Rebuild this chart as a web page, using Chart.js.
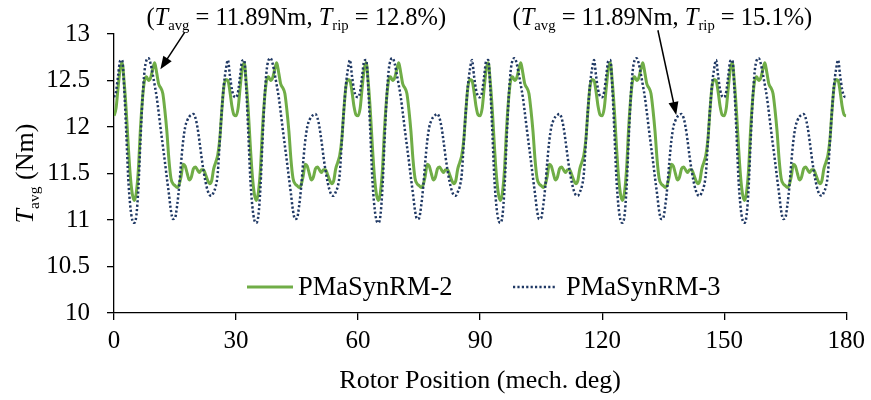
<!DOCTYPE html>
<html>
<head>
<meta charset="utf-8">
<title>Torque ripple</title>
<script src="https://cdn.jsdelivr.net/npm/chart.js@4.4.1/dist/chart.umd.min.js"></script>
<style>
  html, body { margin: 0; padding: 0; background: #fff; }
  #wrap { width: 871px; height: 400px; }
</style>
</head>
<body>
<div id="wrap"><canvas id="torqueChart" width="871" height="400"></canvas></div>
<script>
// Torque vs rotor position, sampled every 0.5 mech. deg (0 .. 180)
const STEP_DEG = 0.5;

const X_TICKS = [0, 30, 60, 90, 120, 150, 180];
const Y_MIN = 10, Y_MAX = 13, Y_STEP = 0.5;

const seriesNames = ['PMaSynRM-2', 'PMaSynRM-3'];

// PMaSynRM-2 (one line per 30 deg)
const pmasynrm2 = [
  12.12, 12.20, 12.42, 12.62, 12.69, 12.48, 12.18, 11.80, 11.48, 11.28, 11.21, 11.30, 11.55, 11.98, 12.30, 12.50, 12.54, 12.50, 12.53, 12.62, 12.69, 12.58, 12.46, 12.42, 12.36, 12.18, 11.95, 11.65, 11.45, 11.39, 11.37, 11.35, 11.38, 11.47, 11.60, 11.58, 11.50, 11.43, 11.46, 11.55, 11.57, 11.54, 11.51, 11.54, 11.54, 11.49, 11.43, 11.39, 11.42, 11.55, 11.62, 11.70, 11.87, 12.18, 12.43, 12.51, 12.50, 12.38, 12.22, 12.13,
  12.12, 12.20, 12.42, 12.62, 12.69, 12.48, 12.18, 11.80, 11.48, 11.28, 11.21, 11.30, 11.55, 11.98, 12.30, 12.50, 12.54, 12.50, 12.53, 12.62, 12.69, 12.58, 12.46, 12.42, 12.36, 12.18, 11.95, 11.65, 11.45, 11.39, 11.37, 11.35, 11.38, 11.47, 11.60, 11.58, 11.50, 11.43, 11.46, 11.55, 11.57, 11.54, 11.51, 11.54, 11.54, 11.49, 11.43, 11.39, 11.42, 11.55, 11.62, 11.70, 11.87, 12.18, 12.43, 12.51, 12.50, 12.38, 12.22, 12.13,
  12.12, 12.20, 12.42, 12.62, 12.69, 12.48, 12.18, 11.80, 11.48, 11.28, 11.21, 11.30, 11.55, 11.98, 12.30, 12.50, 12.54, 12.50, 12.53, 12.62, 12.69, 12.58, 12.46, 12.42, 12.36, 12.18, 11.95, 11.65, 11.45, 11.39, 11.37, 11.35, 11.38, 11.47, 11.60, 11.58, 11.50, 11.43, 11.46, 11.55, 11.57, 11.54, 11.51, 11.54, 11.54, 11.49, 11.43, 11.39, 11.42, 11.55, 11.62, 11.70, 11.87, 12.18, 12.43, 12.51, 12.50, 12.38, 12.22, 12.13,
  12.12, 12.20, 12.42, 12.62, 12.69, 12.48, 12.18, 11.80, 11.48, 11.28, 11.21, 11.30, 11.55, 11.98, 12.30, 12.50, 12.54, 12.50, 12.53, 12.62, 12.69, 12.58, 12.46, 12.42, 12.36, 12.18, 11.95, 11.65, 11.45, 11.39, 11.37, 11.35, 11.38, 11.47, 11.60, 11.58, 11.50, 11.43, 11.46, 11.55, 11.57, 11.54, 11.51, 11.54, 11.54, 11.49, 11.43, 11.39, 11.42, 11.55, 11.62, 11.70, 11.87, 12.18, 12.43, 12.51, 12.50, 12.38, 12.22, 12.13,
  12.12, 12.20, 12.42, 12.62, 12.69, 12.48, 12.18, 11.80, 11.48, 11.28, 11.21, 11.30, 11.55, 11.98, 12.30, 12.50, 12.54, 12.50, 12.53, 12.62, 12.69, 12.58, 12.46, 12.42, 12.36, 12.18, 11.95, 11.65, 11.45, 11.39, 11.37, 11.35, 11.38, 11.47, 11.60, 11.58, 11.50, 11.43, 11.46, 11.55, 11.57, 11.54, 11.51, 11.54, 11.54, 11.49, 11.43, 11.39, 11.42, 11.55, 11.62, 11.70, 11.87, 12.18, 12.43, 12.51, 12.50, 12.38, 12.22, 12.13,
  12.12, 12.20, 12.42, 12.62, 12.69, 12.48, 12.18, 11.80, 11.48, 11.28, 11.21, 11.30, 11.55, 11.98, 12.30, 12.50, 12.54, 12.50, 12.53, 12.62, 12.69, 12.58, 12.46, 12.42, 12.36, 12.18, 11.95, 11.65, 11.45, 11.39, 11.37, 11.35, 11.38, 11.47, 11.60, 11.58, 11.50, 11.43, 11.46, 11.55, 11.57, 11.54, 11.51, 11.54, 11.54, 11.49, 11.43, 11.39, 11.42, 11.55, 11.62, 11.70, 11.87, 12.18, 12.43, 12.51, 12.50, 12.38, 12.22, 12.13,
  12.12
];

// PMaSynRM-3
const pmasynrm3 = [
  12.32, 12.38, 12.55, 12.71, 12.72, 12.42, 11.95, 11.45, 11.15, 11.00, 10.97, 11.05, 11.35, 11.85, 12.30, 12.60, 12.72, 12.74, 12.68, 12.57, 12.45, 12.32, 12.15, 11.97, 11.80, 11.63, 11.45, 11.28, 11.10, 11.01, 11.02, 11.15, 11.35, 11.62, 11.85, 12.00, 12.07, 12.11, 12.13, 12.14, 12.10, 12.00, 11.85, 11.68, 11.53, 11.41, 11.32, 11.27, 11.26, 11.30, 11.36, 11.50, 11.85, 12.18, 12.45, 12.62, 12.72, 12.55, 12.40, 12.33,
  12.32, 12.38, 12.55, 12.71, 12.72, 12.42, 11.95, 11.45, 11.15, 11.00, 10.97, 11.05, 11.35, 11.85, 12.30, 12.60, 12.72, 12.74, 12.68, 12.57, 12.45, 12.32, 12.15, 11.97, 11.80, 11.63, 11.45, 11.28, 11.10, 11.01, 11.02, 11.15, 11.35, 11.62, 11.85, 12.00, 12.07, 12.11, 12.13, 12.14, 12.10, 12.00, 11.85, 11.68, 11.53, 11.41, 11.32, 11.27, 11.26, 11.30, 11.36, 11.50, 11.85, 12.18, 12.45, 12.62, 12.72, 12.55, 12.40, 12.33,
  12.32, 12.38, 12.55, 12.71, 12.72, 12.42, 11.95, 11.45, 11.15, 11.00, 10.97, 11.05, 11.35, 11.85, 12.30, 12.60, 12.72, 12.74, 12.68, 12.57, 12.45, 12.32, 12.15, 11.97, 11.80, 11.63, 11.45, 11.28, 11.10, 11.01, 11.02, 11.15, 11.35, 11.62, 11.85, 12.00, 12.07, 12.11, 12.13, 12.14, 12.10, 12.00, 11.85, 11.68, 11.53, 11.41, 11.32, 11.27, 11.26, 11.30, 11.36, 11.50, 11.85, 12.18, 12.45, 12.62, 12.72, 12.55, 12.40, 12.33,
  12.32, 12.38, 12.55, 12.71, 12.72, 12.42, 11.95, 11.45, 11.15, 11.00, 10.97, 11.05, 11.35, 11.85, 12.30, 12.60, 12.72, 12.74, 12.68, 12.57, 12.45, 12.32, 12.15, 11.97, 11.80, 11.63, 11.45, 11.28, 11.10, 11.01, 11.02, 11.15, 11.35, 11.62, 11.85, 12.00, 12.07, 12.11, 12.13, 12.14, 12.10, 12.00, 11.85, 11.68, 11.53, 11.41, 11.32, 11.27, 11.26, 11.30, 11.36, 11.50, 11.85, 12.18, 12.45, 12.62, 12.72, 12.55, 12.40, 12.33,
  12.32, 12.38, 12.55, 12.71, 12.72, 12.42, 11.95, 11.45, 11.15, 11.00, 10.97, 11.05, 11.35, 11.85, 12.30, 12.60, 12.72, 12.74, 12.68, 12.57, 12.45, 12.32, 12.15, 11.97, 11.80, 11.63, 11.45, 11.28, 11.10, 11.01, 11.02, 11.15, 11.35, 11.62, 11.85, 12.00, 12.07, 12.11, 12.13, 12.14, 12.10, 12.00, 11.85, 11.68, 11.53, 11.41, 11.32, 11.27, 11.26, 11.30, 11.36, 11.50, 11.85, 12.18, 12.45, 12.62, 12.72, 12.55, 12.40, 12.33,
  12.32, 12.38, 12.55, 12.71, 12.72, 12.42, 11.95, 11.45, 11.15, 11.00, 10.97, 11.05, 11.35, 11.85, 12.30, 12.60, 12.72, 12.74, 12.68, 12.57, 12.45, 12.32, 12.15, 11.97, 11.80, 11.63, 11.45, 11.28, 11.10, 11.01, 11.02, 11.15, 11.35, 11.62, 11.85, 12.00, 12.07, 12.11, 12.13, 12.14, 12.10, 12.00, 11.85, 11.68, 11.53, 11.41, 11.32, 11.27, 11.26, 11.30, 11.36, 11.50, 11.85, 12.18, 12.45, 12.62, 12.72, 12.55, 12.40, 12.33,
  12.32
];

// Annotation labels: ripple text, text centre (deg), arrow tail / tip (deg, Nm)
const annotRipple = ['12.8%', '15.1%'];
const annotAvg = '11.89Nm';
const annotCenterDeg = [44.8, 134.8];
const arrowTail = [[17.4, 13.02], [133.7, 13.04]];
const arrowTip  = [[11.4, 12.62], [138.2, 12.13]];

const SERIF = "'Liberation Serif', 'Times New Roman', serif";
const GREEN = '#70AD47';
const NAVY  = '#1F3864';
const DOTS  = [2.2, 2.2];

const toPoints = vals => vals.map((v, i) => ({ x: i * STEP_DEG, y: v }));

// rich text (italic T + subscript) drawn left-to-right from x0 / centred
function richText(ctx, parts, size, x0, baseline, align) {
  const fontOf = p => (p.italic ? 'italic ' : '') + (p.sub ? size * 0.6 : size) + 'px ' + SERIF;
  let total = 0;
  parts.forEach(p => { ctx.font = fontOf(p); p.w = ctx.measureText(p.t).width; total += p.w; });
  let x = align === 'center' ? x0 - total / 2 : x0;
  ctx.textAlign = 'left';
  ctx.textBaseline = 'alphabetic';
  parts.forEach(p => {
    ctx.font = fontOf(p);
    ctx.fillText(p.t, x, baseline + (p.sub ? size * 0.22 : 0));
    x += p.w;
  });
}

function arrow(ctx, x1, y1, x2, y2) {
  const ang = Math.atan2(y2 - y1, x2 - x1);
  const len = 13, half = 5;
  ctx.beginPath();
  ctx.moveTo(x1, y1);
  ctx.lineTo(x2 - Math.cos(ang) * len * 0.8, y2 - Math.sin(ang) * len * 0.8);
  ctx.stroke();
  ctx.beginPath();
  ctx.moveTo(x2, y2);
  ctx.lineTo(x2 - Math.cos(ang) * len - Math.sin(ang) * half, y2 - Math.sin(ang) * len + Math.cos(ang) * half);
  ctx.lineTo(x2 - Math.cos(ang) * len + Math.sin(ang) * half, y2 - Math.sin(ang) * len - Math.cos(ang) * half);
  ctx.closePath();
  ctx.fill();
}

const overlay = {
  id: 'overlay',
  afterDraw(chart) {
    const { ctx, chartArea } = chart;
    const xs = chart.scales.x, ys = chart.scales.y;
    ctx.save();
    ctx.fillStyle = '#000';
    ctx.strokeStyle = '#000';

    // y-axis title, rotated
    ctx.save();
    ctx.translate(33, (chartArea.top + chartArea.bottom) / 2);
    ctx.rotate(-Math.PI / 2);
    richText(ctx, [{ t: 'T', italic: true }, { t: 'avg', sub: true }, { t: ' (Nm)' }], 26, 0, 0, 'center');
    ctx.restore();

    // annotations above the plot
    annotRipple.forEach((rip, i) => {
      richText(ctx, [
        { t: '(' }, { t: 'T', italic: true }, { t: 'avg', sub: true },
        { t: ' = ' + annotAvg + ', ' }, { t: 'T', italic: true }, { t: 'rip', sub: true },
        { t: ' = ' + rip + ')' }
      ], 24.5, xs.getPixelForValue(annotCenterDeg[i]), chartArea.top - 9, 'center');
      ctx.lineWidth = 1.5;
      arrow(ctx,
        xs.getPixelForValue(arrowTail[i][0]), ys.getPixelForValue(arrowTail[i][1]),
        xs.getPixelForValue(arrowTip[i][0]), ys.getPixelForValue(arrowTip[i][1]));
    });

    // legend inside plot area
    const ly = chartArea.bottom - 26;
    ctx.lineWidth = 3;
    ctx.strokeStyle = GREEN;
    ctx.beginPath(); ctx.moveTo(247, ly); ctx.lineTo(293, ly); ctx.stroke();
    ctx.lineWidth = 2.5;
    ctx.strokeStyle = NAVY;
    ctx.setLineDash(DOTS);
    ctx.beginPath(); ctx.moveTo(513, ly); ctx.lineTo(555, ly); ctx.stroke();
    ctx.setLineDash([]);
    ctx.font = '26.5px ' + SERIF;
    ctx.textAlign = 'left';
    ctx.textBaseline = 'middle';
    ctx.fillText(seriesNames[0], 298, ly + 1);
    ctx.fillText(seriesNames[1], 566, ly + 1);
    ctx.restore();
  }
};

const ctx = document.getElementById('torqueChart');

new Chart(ctx, {
  type: 'line',
  data: {
    datasets: [
      {
        label: seriesNames[0],
        data: toPoints(pmasynrm2),
        borderColor: GREEN,
        borderWidth: 3,
        pointRadius: 0,
        cubicInterpolationMode: 'monotone',
        order: 1
      },
      {
        label: seriesNames[1],
        data: toPoints(pmasynrm3),
        borderColor: NAVY,
        borderWidth: 2.5,
        borderDash: DOTS,
        pointRadius: 0,
        cubicInterpolationMode: 'monotone',
        order: 0
      }
    ]
  },
  options: {
    responsive: false,
    animation: false,
    events: [],
    layout: { padding: { top: 34, right: 24, left: 0, bottom: 0 } },
    plugins: { legend: { display: false }, tooltip: { enabled: false } },
    scales: {
      x: {
        type: 'linear',
        min: X_TICKS[0],
        max: X_TICKS[X_TICKS.length - 1],
        afterBuildTicks: s => { s.ticks = X_TICKS.map(v => ({ value: v })); },
        ticks: { color: '#000', font: { family: SERIF, size: 25 }, padding: 6, maxRotation: 0 },
        grid: { drawOnChartArea: false, drawTicks: true, tickLength: 7, color: '#000', lineWidth: 1.3 },
        border: { display: true, color: '#000', width: 1.3 },
        title: {
          display: true,
          text: 'Rotor Position (mech. deg)',
          color: '#000',
          font: { family: SERIF, size: 26 },
          padding: { top: 0, bottom: 3 }
        },
        afterFit: s => { s.height = 87; }
      },
      y: {
        min: Y_MIN,
        max: Y_MAX,
        ticks: {
          stepSize: Y_STEP,
          color: '#000',
          font: { family: SERIF, size: 25 },
          padding: 17,
          callback: v => String(+v.toFixed(1))
        },
        grid: { drawOnChartArea: false, drawTicks: true, tickLength: 7, color: '#000', lineWidth: 1.3 },
        border: { display: true, color: '#000', width: 1.3 },
        afterFit: s => { s.width = 114; }
      }
    }
  },
  plugins: [overlay]
});
</script>
</body>
</html>
